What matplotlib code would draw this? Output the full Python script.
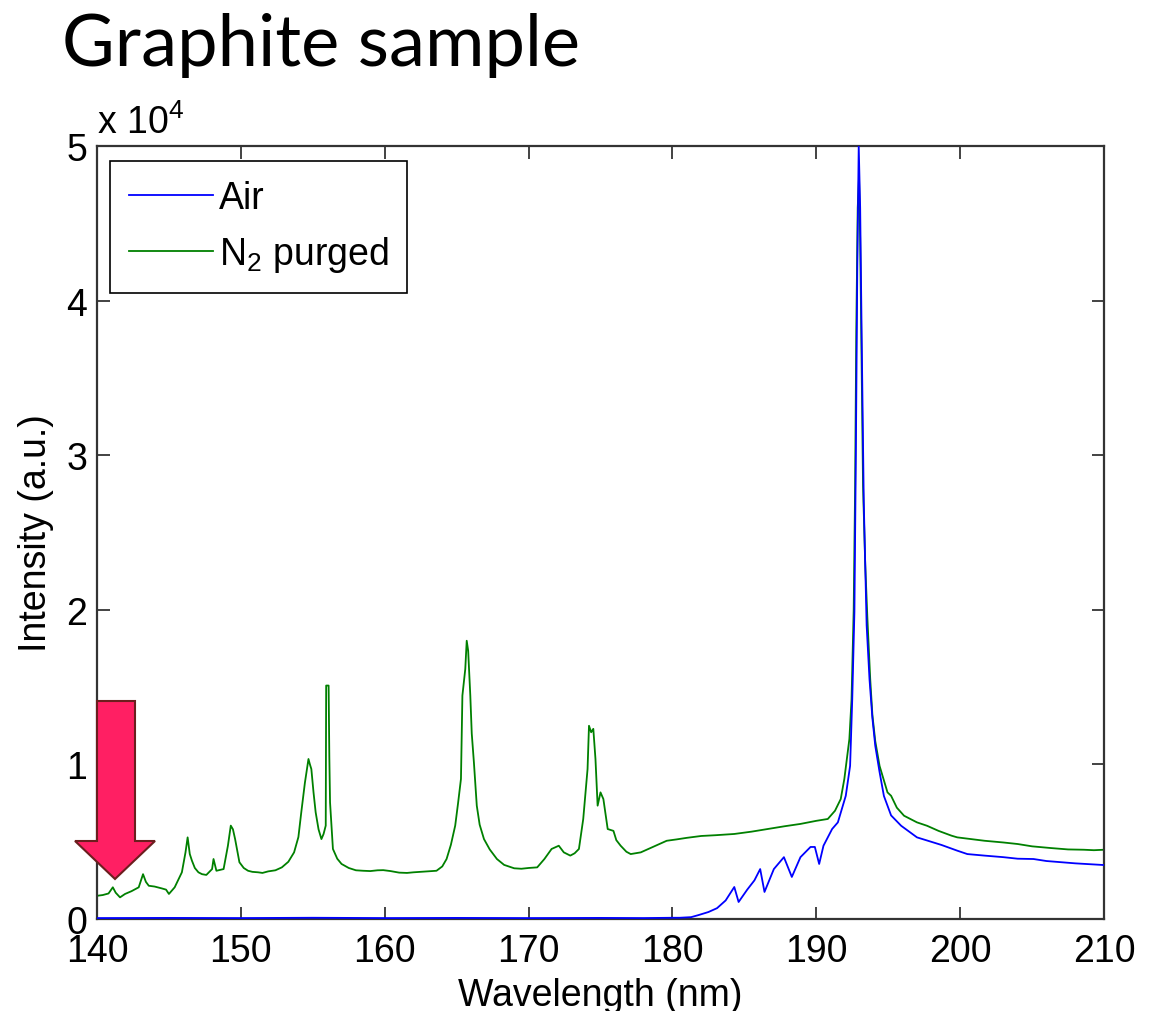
import matplotlib
matplotlib.use("Agg")
import matplotlib.pyplot as plt
from matplotlib.patches import Polygon

plt.rcParams['font.family'] = ['Liberation Sans', 'DejaVu Sans']
plt.rcParams['mathtext.fontset'] = 'custom'
plt.rcParams['mathtext.rm'] = 'Liberation Sans'
plt.rcParams['mathtext.it'] = 'Liberation Sans'

# ---------------- data ----------------
title = "Graphite sample"
x_label = "Wavelength (nm)"
y_label = "Intensity (a.u.)"
legend_labels = ["Air", r"N$_2$ purged"]
x_ticks = [140, 150, 160, 170, 180, 190, 200, 210]
y_ticks = [0, 10000, 20000, 30000, 40000, 50000]
y_tick_labels = ["0", "1", "2", "3", "4", "5"]

n2_wl = [140.0, 140.4, 140.8, 141.1, 141.3, 141.6, 141.95, 142.4, 142.9, 143.2, 143.4, 143.6,
         144.0, 144.5, 144.8, 145.0, 145.4, 145.9, 146.15, 146.3, 146.45, 146.6, 146.8, 147.05,
         147.3, 147.6, 148.0, 148.1, 148.3, 148.8, 149.1, 149.3, 149.45, 149.6, 149.9, 150.2,
         150.5, 150.8, 151.2, 151.5, 151.9, 152.4, 152.85, 153.3, 153.7, 154.0, 154.2, 154.45,
         154.7, 154.8, 154.9, 155.05, 155.2, 155.4, 155.6, 155.75, 155.9, 155.93, 156.1, 156.15,
         156.2, 156.4, 156.7, 157.0, 157.5, 158.0, 158.5, 159.0, 159.5, 159.9, 160.4, 161.0,
         161.55, 162.0, 162.5, 163.0, 163.6, 164.0, 164.3, 164.6, 164.9, 165.1, 165.3, 165.4,
         165.6, 165.7, 165.8, 165.95, 166.05, 166.2, 166.4, 166.6, 166.9, 167.3, 167.8, 168.3,
         169.0, 169.5, 170.0, 170.6, 171.1, 171.6, 172.1, 172.45, 172.9, 173.2, 173.5, 173.8,
         174.1, 174.2, 174.35, 174.5, 174.65, 174.8, 175.0, 175.2, 175.5, 175.9, 176.1, 176.4,
         176.8, 177.1, 177.8, 178.5, 179.0, 179.6, 180.3, 181.0, 182.0, 183.0, 184.3, 185.5,
         186.6, 187.8, 188.9, 190.0, 190.8, 191.3, 191.7, 191.95, 192.3, 192.45, 192.6, 192.7,
         192.78, 192.88, 192.97, 193.05, 193.15, 193.25, 193.4, 193.55, 193.75, 193.9, 194.1, 194.4,
         194.95, 195.2, 195.6, 196.1, 197.0, 197.7, 198.5, 199.4, 199.8, 200.5, 201.7, 203.0,
         204.0, 205.0, 206.3, 207.5, 208.6, 209.3, 210.0]
n2_int = [1500, 1550, 1650, 2050, 1700, 1400, 1620, 1800, 2050, 2900, 2400, 2150,
          2100, 1980, 1900, 1620, 2050, 3020, 4300, 5280, 4200, 3770, 3300, 3020,
          2900, 2850, 3230, 3880, 3120, 3230, 4740, 6040, 5800, 5170, 3670, 3300,
          3120, 3050, 3020, 2980, 3080, 3150, 3340, 3700, 4310, 5300, 6900, 8800,
          10350, 10000, 9700, 8200, 6900, 5800, 5170, 5500, 6040, 15100, 15100, 10500,
          7540, 4530, 3900, 3560, 3300, 3150, 3120, 3100, 3150, 3160, 3100, 3000,
          2980, 3020, 3050, 3080, 3120, 3400, 3880, 4800, 6040, 7500, 9060, 14450,
          16170, 18000, 17360, 14450, 12000, 10130, 7330, 6100, 5170, 4500, 3880, 3500,
          3280, 3250, 3300, 3340, 3880, 4530, 4740, 4310, 4100, 4250, 4530, 6470,
          9700, 12500, 12080, 12300, 10350, 7330, 8190, 7760, 5820, 5700, 5100, 4740,
          4350, 4200, 4310, 4600, 4800, 5060, 5150, 5250, 5370, 5420, 5500, 5650,
          5820, 6000, 6150, 6350, 6470, 7000, 7760, 9060, 11640, 14200, 20000, 28000,
          38000, 46000, 48000, 44000, 36000, 28000, 23000, 19500, 15500, 13200, 11500, 9900,
          8190, 7970, 7200, 6680, 6250, 6030, 5700, 5390, 5280, 5200, 5060, 4950,
          4850, 4700, 4590, 4500, 4480, 4450, 4480]

air_wl = [140.0, 145.0, 150.0, 155.0, 160.0, 165.0, 170.0, 175.0, 178.0, 180.0, 180.5, 181.3,
          181.8, 182.5, 183.1, 183.7, 184.3, 184.6, 185.2, 185.7, 186.1, 186.4, 187.05, 187.75,
          188.3, 188.9, 189.6, 189.9, 190.2, 190.5, 191.1, 191.5, 192.05, 192.35, 192.5, 192.65,
          192.75, 192.85, 192.95, 193.05, 193.15, 193.3, 193.5, 193.7, 193.9, 194.1, 194.4, 194.7,
          195.2, 195.9, 197.0, 198.7, 199.8, 200.5, 201.7, 203.0, 204.0, 205.1, 206.0, 208.0, 210.0]
air_int = [60, 70, 60, 80, 60, 70, 60, 70, 60, 80, 80, 120,
           250, 450, 700, 1200, 2070, 1100, 1900, 2500, 3230, 1750, 3230, 4000,
           2720, 4000, 4660, 4660, 3560, 4740, 5820, 6250, 7970, 9900, 14230, 19860,
           30000, 42000, 50000, 46000, 38000, 27000, 19000, 15500, 13000, 11200, 9500, 7960,
           6700, 6030, 5280, 4790, 4420, 4200, 4100, 4000, 3900, 3880, 3750, 3600, 3490]

# ---------------- figure ----------------
W, H = 1162, 1012
fig = plt.figure(figsize=(W / 100, H / 100), dpi=100)
ax = fig.add_axes([97 / W, 1 - 920 / H, (1104 - 97) / W, (920 - 147) / H])

ax.plot(air_wl, air_int, color=(0, 0, 1), lw=1.3, label=legend_labels[0], zorder=3)
ax.plot(n2_wl, n2_int, color=(0, 0.5, 0), lw=1.3, label=legend_labels[1], zorder=2)

ax.set_xlim(140, 210)
ax.set_ylim(0, 50000)
ax.set_xticks(x_ticks)
ax.set_xticklabels([str(t) for t in x_ticks])
ax.set_yticks(y_ticks)
ax.set_yticklabels(y_tick_labels)
ax.tick_params(direction='in', top=True, right=True, length=9, width=1.2,
               labelsize=27, colors='#222222', labelcolor='black')
ax.tick_params(axis='x', pad=10)
ax.tick_params(axis='y', pad=7)
for s in ax.spines.values():
    s.set_color('#333333')
    s.set_linewidth(1.6)

ax.set_xlabel(x_label, fontsize=27, labelpad=6)
ax.set_ylabel(y_label, fontsize=27, labelpad=9)
ax.text(0.0, 1.006, r"x 10$^4$", transform=ax.transAxes, fontsize=27,
        ha='left', va='bottom')

leg = ax.legend(loc='upper left', bbox_to_anchor=(13 / 1007, 1 - 15 / 773),
                borderaxespad=0, fontsize=27, frameon=True, fancybox=False,
                edgecolor='black', framealpha=1, handlelength=2.25, handletextpad=0.15,
                labelspacing=0.5, borderpad=0.5)
leg.get_frame().set_linewidth(1.2)

fig.text(62 / W, 1 - 66 / H, title, fontsize=52, family='Lato', ha='left', va='baseline')

# red arrow annotation (pixel coordinates from top-left)
arrow_px = [(97, 702), (135, 702), (135, 842), (155, 842), (115, 880), (75, 842), (97, 842)]
arrow_fig = [(x / W, 1 - y / H) for x, y in arrow_px]
fig.patches.append(Polygon(arrow_fig, closed=True, transform=fig.transFigure,
                           facecolor='#FF1F63', edgecolor='#6B1E1E', lw=1.5, zorder=10))

fig.savefig("out.png", dpi=100)
